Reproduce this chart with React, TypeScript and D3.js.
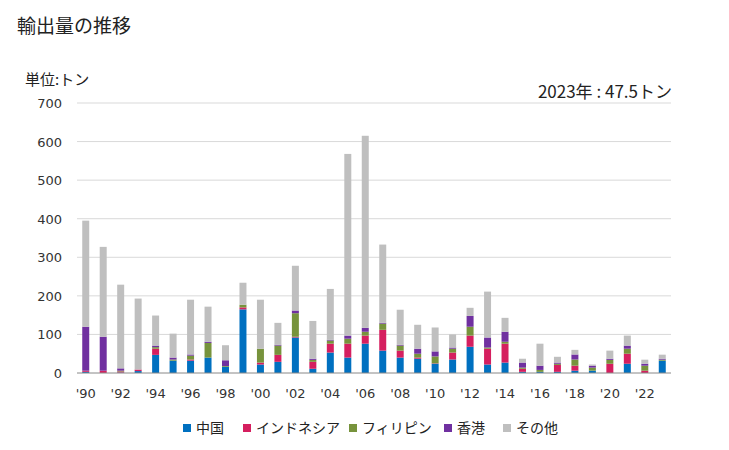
import React from "react";
import * as d3 from "d3";

const years = d3.range(1990, 2024).map(String);
const series = ["中国", "インドネシア", "フィリピン", "香港", "その他"];
const colors = ["#0070c0", "#d51f5f", "#77933c", "#7030a0", "#bfbfbf"];

const china = [3, 0, 1, 5, 47, 32, 32, 40, 16, 165, 22, 29, 92, 11, 53, 40, 76, 58, 40, 37, 24, 35, 68, 22, 27, 3, 3, 3, 6, 6, 0, 24, 0, 32];
const indonesia = [3, 6, 3, 4, 16, 0, 3, 0, 0, 5, 5, 18, 2, 18, 23, 36, 21, 54, 18, 3, 1, 18, 29, 41, 49, 8, 0, 18, 13, 0, 24, 26, 6, 0];
const philippines = [0, 0, 2, 0, 4, 3, 10, 38, 2, 7, 36, 24, 61, 5, 8, 13, 10, 16, 13, 10, 18, 10, 23, 3, 5, 3, 5, 3, 16, 8, 10, 13, 13, 2.5];
const hongkong = [114, 88, 6, 0, 4, 5, 3, 3, 15, 0, 0, 2, 7, 3, 2, 8, 10, 2, 2, 13, 13, 3, 28, 26, 26, 13, 11, 3, 13, 5, 3, 8, 5, 2.5];
const others = [275, 233, 217, 184, 78, 62, 142, 91, 39, 57, 127, 57, 116, 98, 132, 471, 498, 203, 91, 62, 62, 34, 21, 119, 36, 10, 57, 15, 12, 3, 21, 26, 10.5, 10.5];
const yTicks = [0, 100, 200, 300, 400, 500, 600, 700];

const W = 729;
const H = 450;
const left = 77;
const right = 671;
const top = 103;
const bottom = 373;
const jp = "'Noto Sans CJK JP', 'Noto Sans', sans-serif";
const num = "'DejaVu Sans', Verdana, sans-serif";

export default function App() {
  const values = [china, indonesia, philippines, hongkong, others];
  const rows = years.map((y, i) => {
    const r: any = { year: y };
    series.forEach((s, k) => (r[s] = values[k][i]));
    return r;
  });
  const stack = d3.stack().keys(series)(rows as any);
  const x = d3.scaleBand().domain(years).range([left, right]).paddingInner(0.6).paddingOuter(0.3);
  const y = d3.scaleLinear().domain([0, 700]).range([bottom, top]);

  const legendX = [183, 243, 349, 444, 503];

  return (
    <svg width={W} height={H} style={{ position: "absolute", left: 0, top: 0, background: "#fff" }}>
      <text x={17} y={33} fontFamily={jp} fontSize={19} fill="#222">輸出量の推移</text>
      <text x={25} y={85} fontFamily={jp} fontSize={15} fill="#222">単位:トン</text>
      <text x={672} y={98} textAnchor="end" fontFamily={jp} fontSize={17} fill="#222">2023年 : 47.5トン</text>
      {yTicks.map((t) => (
        <g key={t}>
          {t > 0 && <line x1={left} x2={right} y1={y(t)} y2={y(t)} stroke="#d9d9d9" strokeWidth={1} />}
          <text x={62} y={y(t) + 5} textAnchor="end" fontFamily={num} fontSize={13} fill="#333">{t}</text>
        </g>
      ))}
      {stack.map((layer, k) => (
        <g key={series[k]} fill={colors[k]}>
          {layer.map((d: any, i: number) => (
            <rect key={i} x={x(years[i])} width={x.bandwidth()} y={y(d[1])} height={Math.max(0, y(d[0]) - y(d[1]))} />
          ))}
        </g>
      ))}
      <line x1={left} x2={right} y1={bottom} y2={bottom} stroke="#888" strokeWidth={1} />
      {years.map((yr, i) =>
        i % 2 === 0 ? (
          <text key={yr} x={(x(yr) as number) + x.bandwidth() / 2} y={398} textAnchor="middle" fontFamily={num} fontSize={13} fill="#333">
            {"'" + yr.slice(2)}
          </text>
        ) : null
      )}
      {series.map((s, k) => (
        <g key={s}>
          <rect x={legendX[k]} y={424} width={8} height={8} fill={colors[k]} />
          <text x={legendX[k] + 13} y={433} fontFamily={jp} fontSize={14} fill="#222">{s}</text>
        </g>
      ))}
    </svg>
  );
}
